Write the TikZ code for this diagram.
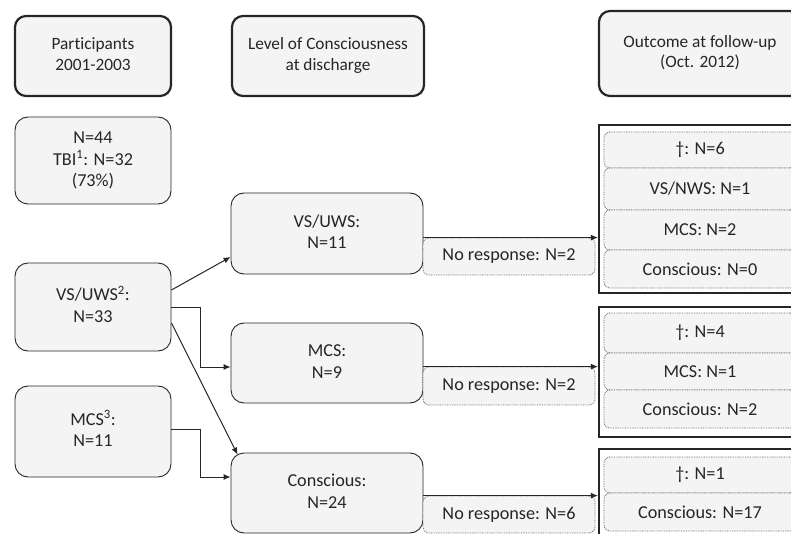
\documentclass[tikz,border=0pt]{standalone}
\usepackage{fontspec}
\setmainfont{Carlito}[Ligatures=CommonOff]
\usetikzlibrary{arrows.meta,calc}
\definecolor{boxfill}{HTML}{F4F4F4}
\definecolor{ink}{HTML}{262626}
\definecolor{dotc}{HTML}{6E6E6E}
\newcommand{\twolines}[3]{\raisebox{#1}{\begin{tabular}{@{}c@{}}#2\\#3\end{tabular}}}
\begin{document}
\begin{tikzpicture}[x=1pt,y=-1pt,
  every node/.style={text=ink, align=center},
  hbox/.style={draw=ink, line width=2.2pt, fill=boxfill, rounded corners=11pt,
    font=\fontsize{17.3}{20.5}\selectfont, inner sep=0pt},
  cbox/.style={draw=ink, line width=0.9pt, fill=boxfill, rounded corners=13pt,
    font=\fontsize{18.2}{21.5}\selectfont, inner sep=0pt, minimum width=156pt},
  dbox/.style={draw=dotc, line width=0.8pt, dash pattern=on 0.8pt off 0.9pt, fill=boxfill,
    rounded corners=6pt, font=\fontsize{18.2}{22}\selectfont, inner sep=0pt},
  grp/.style={draw=ink, line width=2.2pt, fill=white, inner sep=0pt},
  arr/.style={draw=ink, line width=1pt, -{Latex[length=7pt,width=6pt]}}
]
\useasboundingbox (0,0) rectangle (791,534);
% header boxes
\node[hbox, minimum width=156pt, minimum height=80pt] (hp) at (93,56) {\twolines{3pt}{Participants}{2001-2003}};
\node[hbox, minimum width=192pt, minimum height=80pt] (hl) at (328,56) {\twolines{3pt}{Level of Consciousness}{at discharge}};
\node[hbox, minimum width=202pt, minimum height=85pt] (ho) at (700,53.5) {\twolines{5pt}{Outcome at follow-up}{(Oct. 2012)}};
% left column
\node[cbox, minimum height=87pt] (n44) at (93,160.5) {N=44\\TBI\textsuperscript{1}: N=32\\(73\%)};
\node[cbox, minimum height=88pt] (vs33) at (93,307) {\twolines{8pt}{VS/UWS\textsuperscript{2}:}{N=33}};
\node[cbox, minimum height=91pt] (mcs11) at (93,431.5) {\twolines{4pt}{MCS\textsuperscript{3}:}{N=11}};
% middle column
\node[cbox, minimum width=192pt, minimum height=81pt] (vs11) at (327,233.5) {\twolines{0pt}{VS/UWS:}{N=11}};
\node[cbox, minimum width=192pt, minimum height=80pt] (mcs9) at (327,363) {\twolines{3pt}{MCS:}{N=9}};
\node[cbox, minimum width=192pt, minimum height=80pt] (con24) at (327,493) {\twolines{3pt}{Conscious:}{N=24}};
% no response boxes
\node[dbox, minimum width=172pt, minimum height=37pt] (nr1) at (509,256.5) {No response: N=2};
\node[dbox, minimum width=172pt, minimum height=38pt] (nr2) at (509,386) {No response: N=2};
\node[dbox, minimum width=172pt, minimum height=37pt] (nr3) at (509,514.5) {No response: N=6};
% outcome groups
\node[grp, minimum width=211pt, minimum height=168pt] (g1) at (704.5,209) {};
\node[grp, minimum width=211pt, minimum height=130pt] (g2) at (704.5,372) {};
\node[grp, minimum width=211pt, minimum height=92pt] (g3) at (704.5,495) {};
\node[dbox, minimum width=192pt, minimum height=36pt] (o1a) at (700,150) {†: N=6};
\node[dbox, minimum width=192pt, minimum height=42pt] (o1b) at (700,189) {VS/NWS: N=1};
\node[dbox, minimum width=192pt, minimum height=40pt] (o1c) at (700,230) {MCS: N=2};
\node[dbox, minimum width=192pt, minimum height=38pt] (o1d) at (700,269) {Conscious: N=0};
\node[dbox, minimum width=192pt, minimum height=40pt] (o2a) at (700,333) {†: N=4};
\node[dbox, minimum width=192pt, minimum height=37pt] (o2b) at (700,371.5) {MCS: N=1};
\node[dbox, minimum width=192pt, minimum height=38pt] (o2c) at (700,409) {Conscious: N=2};
\node[dbox, minimum width=192pt, minimum height=36pt] (o3a) at (700,475) {†: N=1};
\node[dbox, minimum width=192pt, minimum height=38pt] (o3b) at (700,512) {Conscious: N=17};
% connectors
\draw[arr] ($(vs33.east)+(0,-17)$) -- ($(vs11.west)+(0,23.5)$);
\draw[arr] (vs33.east) -- ++(29,0) |- ($(mcs9.west)+(0,4)$);
\draw[arr] ($(vs33.east)+(0,16)$) -- ($(con24.north west)+(7,2)$);
\draw[arr] ($(mcs11.east)+(0,-2.5)$) -- ++(29,0) |- ($(con24.west)+(0,-16)$);
\draw[arr] (nr1.north west) -- (nr1.north west -| g1.west);
\draw[arr] (nr2.north west) -- (nr2.north west -| g2.west);
\draw[arr] (nr3.north west) -- (nr3.north west -| g3.west);
\end{tikzpicture}
\end{document}
